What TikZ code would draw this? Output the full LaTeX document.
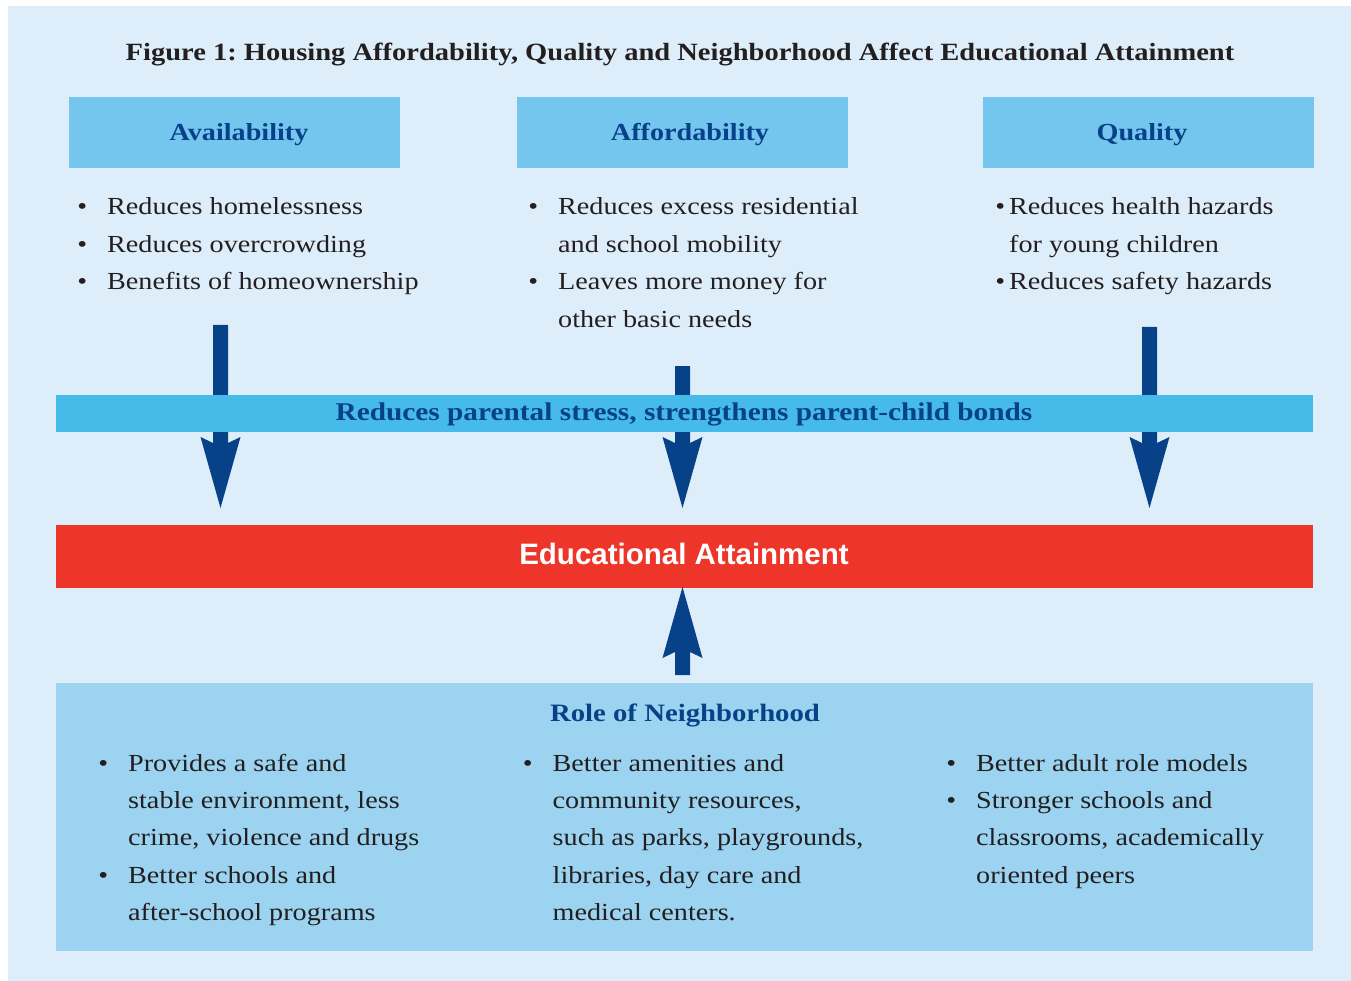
\documentclass[tikz,border=0pt]{standalone}
\usepackage{fontspec}
\setmainfont[FakeStretch=1.15]{Liberation Serif}
\newfontfamily\edsans{Liberation Sans}
\usetikzlibrary{calc}
\definecolor{bgblue}{RGB}{221,238,250}
\definecolor{hdrblue}{RGB}{116,198,238}
\definecolor{bandblue}{RGB}{70,187,234}
\definecolor{botblue}{RGB}{155,211,240}
\definecolor{edred}{RGB}{238,53,41}
\definecolor{darkblue}{RGB}{7,66,136}
\definecolor{txtdark}{RGB}{35,31,32}
\newcommand\bulw{\llap{\textbullet\hspace{20pt}}}
\newcommand\buln{\llap{\textbullet\hspace{4pt}}}
\newcommand\fatarrow[3]{%
  \fill[darkblue] let \p1=(#1), \p2=(#2) in
    (\x1-7.5pt,\y1) -- (\x1-7.5pt,{\y2+(#3)*65pt}) -- (\x1-20pt,{\y2+(#3)*71pt})
    -- (\x2,\y2) -- (\x1+20pt,{\y2+(#3)*71pt}) -- (\x1+7.5pt,{\y2+(#3)*65pt})
    -- (\x1+7.5pt,\y1) -- cycle;}
\begin{document}
\frenchspacing
\begin{tikzpicture}[x=1pt,y=-1pt,
  body/.style={anchor=base west, inner sep=0pt, align=left, text=txtdark,
    font=\fontsize{24.5}{37.4}\selectfont},
  headtxt/.style={anchor=base, inner sep=0pt, text=darkblue,
    font=\bfseries\fontsize{24.5}{30}\selectfont},
  panel/.style={anchor=north west, inner sep=0pt, outer sep=0pt, draw=none}
]
\useasboundingbox (0,0) rectangle (1351,981);
\fill[white] (0,0) rectangle (1351,981);
\fill[bgblue] (8,6) rectangle (1351,981);

% title
\node[anchor=base, inner sep=0pt, text=txtdark, font=\bfseries\fontsize{24.8}{30}\selectfont]
  (title) at (680,61) {Figure 1: Housing Affordability, Quality and Neighborhood Affect Educational Attainment};

% header boxes
\node[panel, fill=hdrblue, minimum width=331, minimum height=71] (availbox) at (69,97) {};
\node[panel, fill=hdrblue, minimum width=331, minimum height=71] (affordbox) at (517,97) {};
\node[panel, fill=hdrblue, minimum width=331, minimum height=71] (qualbox) at (983,97) {};
\node[headtxt] (availtxt) at (239,141) {Availability};
\node[headtxt] (affordtxt) at (690,141) {Affordability};
\node[headtxt] (qualtxt) at (1142,141) {Quality};

% bullet lists (top)
\node[body] (availlist) at (107,289.8) {\bulw Reduces homelessness\\\bulw Reduces overcrowding\\\bulw Benefits of homeownership};
\node[body] (affordlist) at (558,327.2) {\bulw Reduces excess residential\\and school mobility\\\bulw Leaves more money for\\other basic needs};
\node[body] (quallist) at (1009,289.8) {\buln Reduces health hazards\\for young children\\\buln Reduces safety hazards};

% arrow coordinates
\coordinate (a1top) at (220.5,325);
\coordinate (a1tip) at (220.5,508);
\coordinate (a2top) at (682.5,366);
\coordinate (a2tip) at (682.5,508);
\coordinate (a3top) at (1149.5,327);
\coordinate (a3tip) at (1149.5,508);
\coordinate (a4tail) at (682.5,675);
\coordinate (a4tip) at (682.5,587);

\fatarrow{a1top}{a1tip}{1}
\fatarrow{a2top}{a2tip}{1}
\fatarrow{a3top}{a3tip}{1}

% band
\node[panel, fill=bandblue, minimum width=1257, minimum height=37] (band) at (56,395) {};
\node[headtxt, font=\bfseries\fontsize{25.5}{30}\selectfont] (bandtxt) at (684,420) {Reduces parental stress, strengthens parent-child bonds};

% educational attainment
\node[panel, fill=edred, minimum width=1257, minimum height=63] (edbox) at (56,525) {};
\node[anchor=base, inner sep=0pt, text=white, font=\edsans\bfseries\fontsize{29.5}{34}\selectfont] (edtxt) at (684,564) {Educational Attainment};

\fatarrow{a4tail}{a4tip}{-1}

% neighborhood box
\node[panel, fill=botblue, minimum width=1257, minimum height=268] (nbox) at (56,683) {};
\node[headtxt, font=\bfseries\fontsize{25}{30}\selectfont] (ntitle) at (685,721) {Role of Neighborhood};
\node[body] (nlist1) at (128,920.6) {\bulw Provides a safe and\\stable environment, less\\crime, violence and drugs\\\bulw Better schools and\\after-school programs};
\node[body] (nlist2) at (552.5,920.6) {\bulw Better amenities and\\community resources,\\such as parks, playgrounds,\\libraries, day care and\\medical centers.};
\node[body] (nlist3) at (976,883.2) {\bulw Better adult role models\\\bulw Stronger schools and\\classrooms, academically\\oriented peers};
\end{tikzpicture}
\end{document}
